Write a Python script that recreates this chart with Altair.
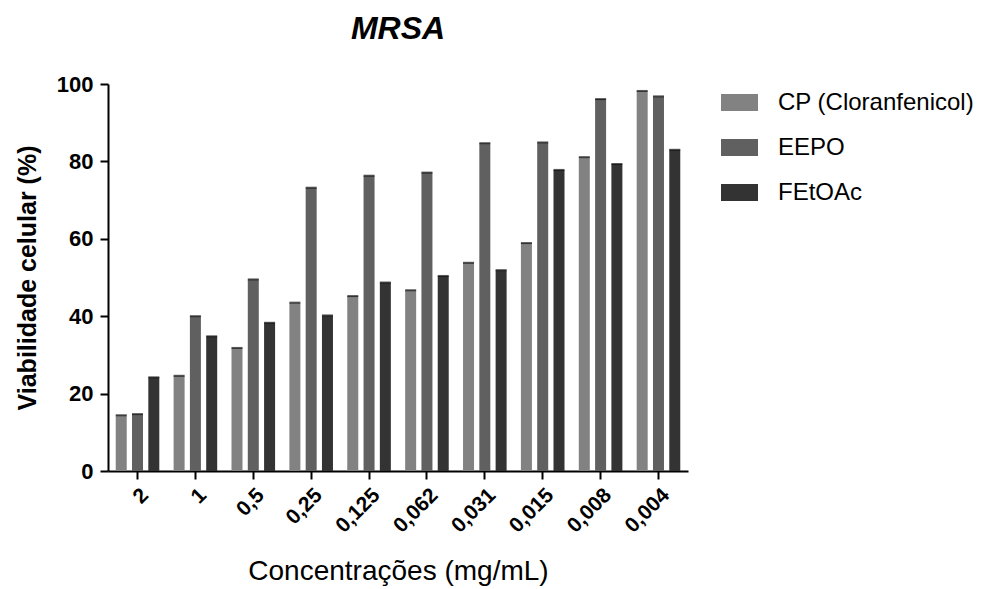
import altair as alt
import pandas as pd

concentrations = ["2", "1", "0,5", "0,25", "0,125", "0,062", "0,031", "0,015", "0,008", "0,004"]
series = ["CP (Cloranfenicol)", "EEPO", "FEtOAc"]
cp = [14.4, 24.6, 31.8, 43.5, 45.2, 46.7, 53.8, 58.9, 81.1, 98.2]
eepo = [14.7, 40.0, 49.5, 73.2, 76.3, 77.1, 84.7, 84.9, 96.1, 96.8]
fetoac = [24.2, 34.8, 38.3, 40.2, 48.7, 50.4, 51.9, 77.8, 79.3, 83.0]
colors = ["#828282", "#606060", "#333333"]

rows = []
for name, vals in zip(series, [cp, eepo, fetoac]):
    for c, v in zip(concentrations, vals):
        rows.append({"conc": c, "serie": name, "valor": v})
df = pd.DataFrame(rows)

FONT = "Liberation Sans"

x_enc = alt.X("conc:N", sort=concentrations,
              scale=alt.Scale(paddingInner=0.24, paddingOuter=0.13),
              axis=alt.Axis(title="Concentrações (mg/mL)", labelAngle=-45,
                            labelFont=FONT, labelFontSize=21, labelFontWeight="bold",
                            labelColor="#000", labelPadding=5,
                            titleFont=FONT, titleFontSize=28, titleFontWeight="normal",
                            titleColor="#000", titlePadding=21,
                            domainColor="#000", domainWidth=2,
                            tickColor="#000", tickWidth=2, tickSize=8))
xoff_enc = alt.XOffset("serie:N", sort=series,
                       scale=alt.Scale(paddingInner=0.3, paddingOuter=0))
y_enc = alt.Y("valor:Q", scale=alt.Scale(domain=[0, 100]),
              axis=alt.Axis(title="Viabilidade celular (%)", values=[0, 20, 40, 60, 80, 100],
                            grid=False,
                            labelFont=FONT, labelFontSize=22, labelFontWeight="bold",
                            labelColor="#000", labelPadding=7,
                            titleFont=FONT, titleFontSize=25, titleFontWeight="bold",
                            titleColor="#000", titlePadding=16,
                            domainColor="#000", domainWidth=2,
                            tickColor="#000", tickWidth=2, tickSize=8))

bars = alt.Chart(df).mark_bar(size=11).encode(
    x=x_enc, xOffset=xoff_enc, y=y_enc,
    color=alt.Color("serie:N", sort=series,
                    scale=alt.Scale(domain=series, range=colors),
                    legend=alt.Legend(title=None, orient="none", legendX=613, legendY=0,
                                      symbolType="M-1,-0.46H1V0.46H-1Z", symbolSize=1369,
                                      symbolStrokeWidth=0, labelFont=FONT, labelFontSize=24,
                                      labelLimit=400,
                                      labelColor="#000", labelOffset=20, rowPadding=14,
                                      padding=0)),
)

caps = alt.Chart(df).mark_tick(size=11, thickness=2, color="#111").encode(
    x=x_enc, xOffset=xoff_enc, y=y_enc,
)

chart = alt.layer(bars, caps).properties(
    width=580, height=387,
    title=alt.TitleParams("MRSA", font=FONT, fontSize=32, fontStyle="italic",
                          fontWeight="bold", color="#000", offset=27, anchor="middle"),
    padding={"top": 5, "left": 7, "right": 5, "bottom": 5},
    background="white",
).configure_view(strokeWidth=0)

chart.save("out.html", embed_options={"renderer": "svg", "actions": False})
